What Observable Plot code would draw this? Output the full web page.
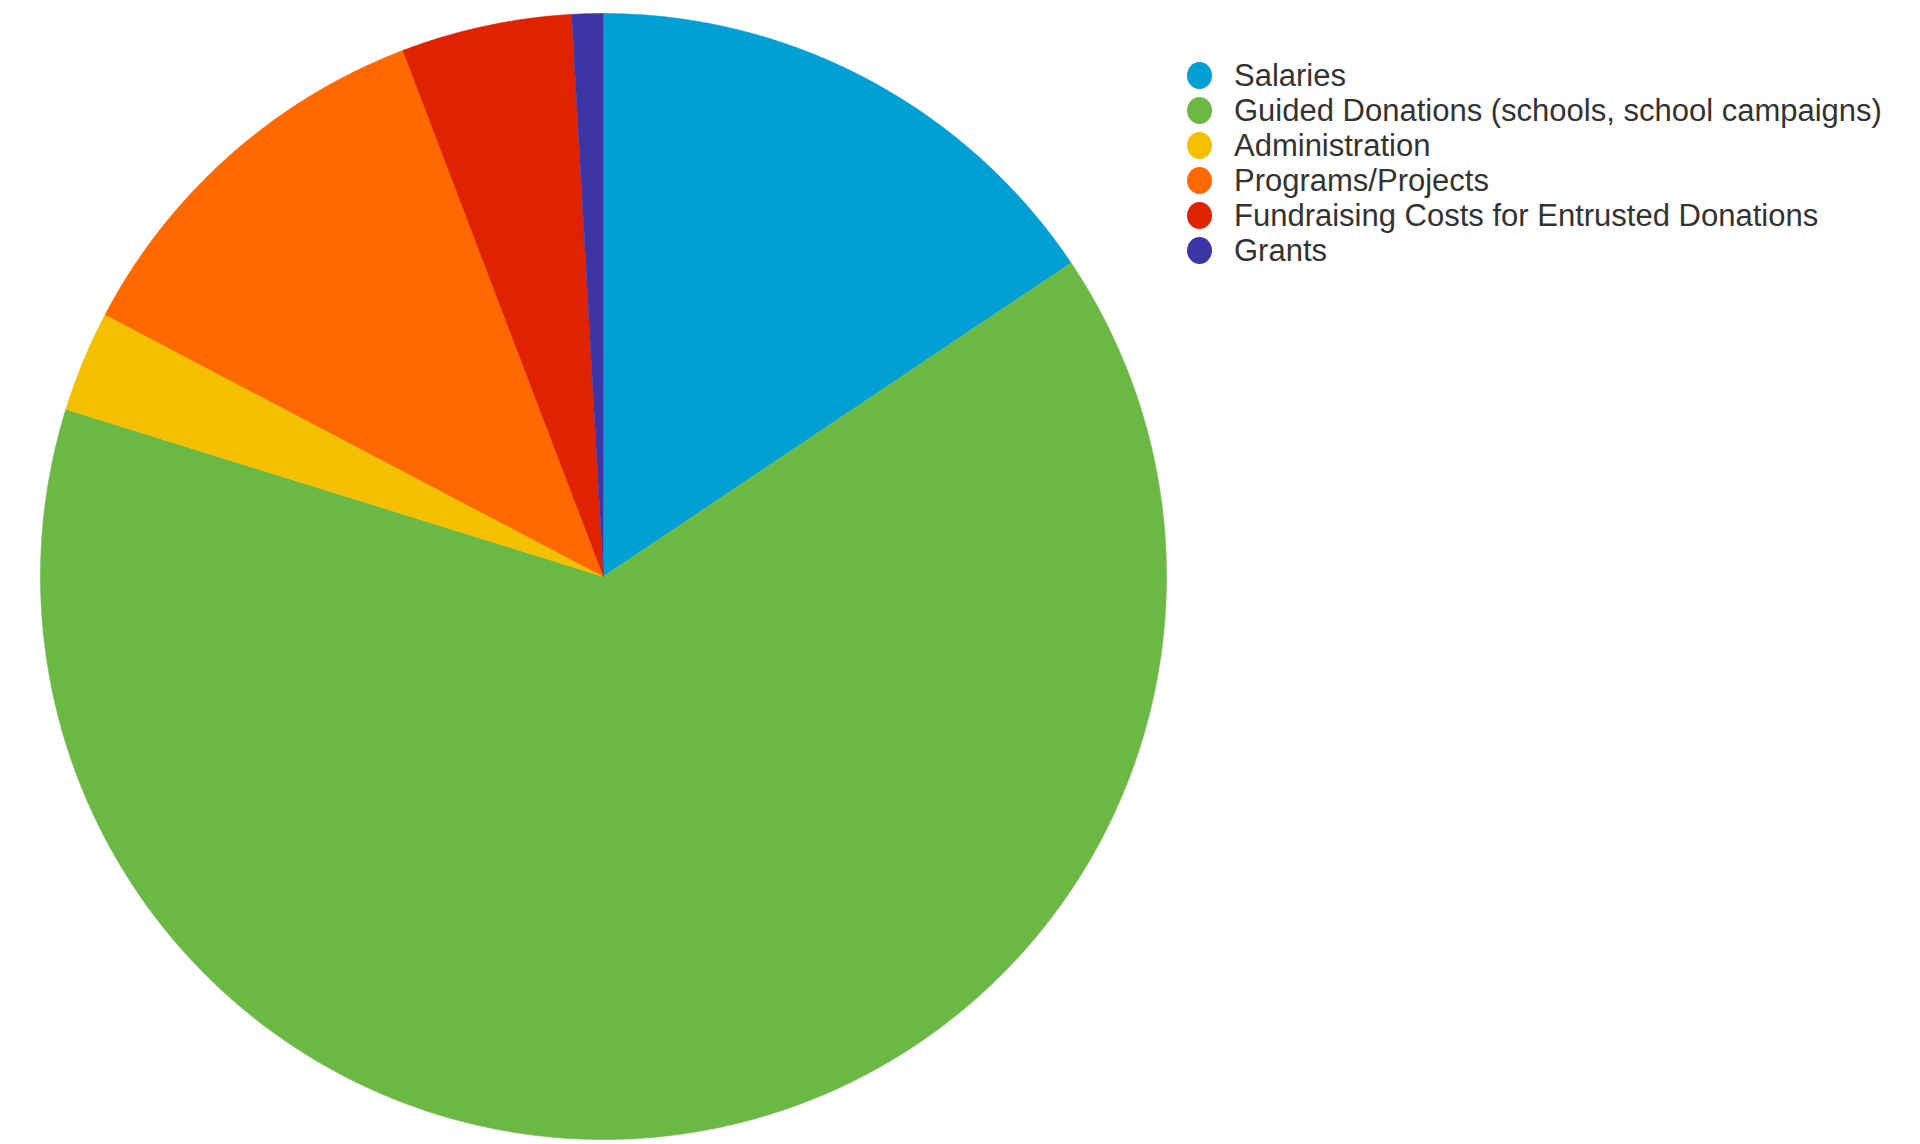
<!DOCTYPE html>
<html>
<head>
<meta charset="utf-8">
<script src="https://cdn.jsdelivr.net/npm/d3@7"></script>
<script src="https://cdn.jsdelivr.net/npm/@observablehq/plot@0.6"></script>
<style>
  html, body { margin: 0; padding: 0; background: #fff; }
  #wrap { position: relative; width: 1920px; height: 1144px; overflow: hidden; }
  #legend { position: absolute; left: 1187px; top: 58px; font-family: "Liberation Sans", Arial, sans-serif; font-size: 31px; color: #333; }
  .row { display: flex; align-items: center; height: 35px; white-space: nowrap; }
  .sw { width: 25px; height: 27px; border-radius: 50%; margin-right: 22px; flex: none; }
</style>
</head>
<body>
<div id="wrap"><div id="legend"></div></div>
<script>
const categories = [
  "Salaries",
  "Guided Donations (schools, school campaigns)",
  "Administration",
  "Programs/Projects",
  "Fundraising Costs for Entrusted Donations",
  "Grants"
];
const values = [15.6, 64.2, 2.9, 11.5, 4.9, 0.9];
const colors = ["#009fd4", "#6bb944", "#f4c000", "#ff6900", "#e12200", "#3c35a6"];

const table = categories.map((c, i) => ({category: c, value: values[i]}));
const arcs = d3.pie().sort(null).value(d => d.value).startAngle(0).endAngle(2 * Math.PI)(table);

// outline points of each slice (center + arc), derived from the pie layout
const pts = [];
for (const a of arcs) {
  const cat = a.data.category;
  pts.push({category: cat, x: 0, y: 0});
  const n = Math.max(2, Math.ceil((a.endAngle - a.startAngle) / (Math.PI / 720)));
  for (let k = 0; k <= n; k++) {
    const t = a.startAngle + (a.endAngle - a.startAngle) * k / n;
    pts.push({category: cat, x: Math.sin(t), y: Math.cos(t)});
  }
}

const plot = Plot.plot({
  width: 1920,
  height: 1144,
  marginLeft: 40,
  marginRight: 754,
  marginTop: 13,
  marginBottom: 5,
  x: {domain: [-1, 1], axis: null},
  y: {domain: [-1, 1], axis: null},
  color: {domain: categories, range: colors},
  marks: [
    Plot.line(pts, {x: "x", y: "y", z: "category", fill: "category", stroke: "category", strokeWidth: 0.6, curve: "linear"})
  ]
});
document.getElementById("wrap").prepend(plot);

const color = plot.scale("color");
const legend = document.getElementById("legend");
categories.forEach(c => {
  const row = document.createElement("div");
  row.className = "row";
  const sw = document.createElement("span");
  sw.className = "sw";
  sw.style.background = color.apply(c);
  const lab = document.createElement("span");
  lab.textContent = c;
  row.append(sw, lab);
  legend.append(row);
});
</script>
</body>
</html>
